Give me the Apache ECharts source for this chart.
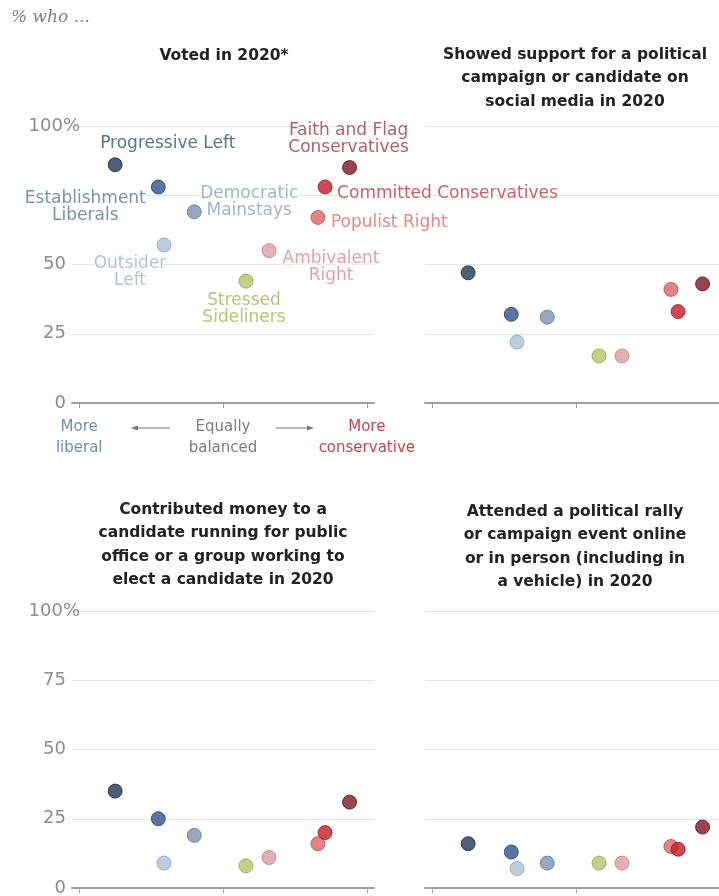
<!DOCTYPE html>
<html>
<head>
<meta charset="utf-8">
<script src="https://cdn.jsdelivr.net/npm/echarts@6/dist/echarts.min.js"></script>
<style>
  html, body { margin: 0; padding: 0; background: #fff; }
  #chart { width: 719px; height: 896px; }
</style>
</head>
<body>
<div id="chart"></div>
<script>
// typology groups, left to right on the ideology scale
const groups = ['Progressive Left', 'Establishment Liberals', 'Democratic Mainstays', 'Outsider Left',
  'Stressed Sideliners', 'Ambivalent Right', 'Populist Right', 'Committed Conservatives', 'Faith and Flag Conservatives'];
// position on the liberal (-1) .. conservative (+1) axis
const ideology = [-0.75, -0.45, -0.2, -0.41, 0.16, 0.32, 0.66, 0.71, 0.88];

// % who ...
const voted = [86, 78, 69, 57, 44, 55, 67, 78, 85];
const socialMedia = [47, 32, 31, 22, 17, 17, 41, 33, 43];
const contributed = [35, 25, 19, 9, 8, 11, 16, 20, 31];
const rally = [16, 13, 9, 7, 9, 9, 15, 14, 22];

const panelValues = [voted, socialMedia, contributed, rally];
const panelTitles = [
  'Voted in 2020*',
  'Showed support for a political\ncampaign or candidate on\nsocial media in 2020',
  'Contributed money to a\ncandidate running for public\noffice or a group working to\nelect a candidate in 2020',
  'Attended a political rally\nor campaign event online\nor in person (including in\na vehicle) in 2020'
];
const yTicks = [0, 25, 50, 75, 100];
const sideTicks = [-1, 0, 1];
const sideLabels = ['More\nliberal', 'Equally\nbalanced', 'More\nconservative'];
const pointLabels = ['Progressive Left', 'Establishment\nLiberals', 'Democratic\nMainstays', 'Outsider\nLeft',
  'Stressed\nSideliners', 'Ambivalent\nRight', 'Populist Right', 'Committed Conservatives', 'Faith and Flag\nConservatives'];

// styling
const dotColors = ['#1f3856', '#2f5586', '#7b92ad', '#adc0d6', '#b4c46a', '#dc9ca2', '#df646b', '#c41c25', '#7d1820'];
const dotBorders = ['#15263b', '#213e64', '#5d7590', '#879fba', '#8e9d4c', '#b67a80', '#b54a50', '#93141a', '#570f15'];
const labelColors = ['#33506f', '#5b7496', '#8ca1bb', '#9db3cd', '#a1b355', '#e0868d', '#e0666d', '#c8353c', '#a3363d'];
const sideColors = ['#6f8db3', '#7c7c7c', '#c9454c'];
// label placement relative to the dot centre (px)
const labelOffsets = [[-15, -21], [-73, 20], [55, -10], [-34, 27], [-2, 28], [62, 16], [13, 5], [12, 7], [-1, -28]];
const labelAligns = ['left', 'center', 'center', 'center', 'center', 'center', 'left', 'left', 'center'];

const FONT = 'DejaVu Sans';
const gridPos = [
  { left: 72, top: 126 }, { left: 425, top: 126 },
  { left: 72, top: 611 }, { left: 425, top: 611 }
];
const titlePos = [[224, 44], [575, 43], [223, 498], [575, 500]];

const chart = echarts.init(document.getElementById('chart'), null, { renderer: 'canvas' });

const grid = gridPos.map(p => ({
  left: p.left, top: p.top, width: 302, height: 277,
  containLabel: false, outerBoundsMode: 'none'
}));

const xAxis = gridPos.map((p, i) => ({
  gridIndex: i, type: 'value', min: -1.05, max: 1.05,
  axisLine: { show: true, onZero: false, lineStyle: { color: '#a0a0a0', width: 2 } },
  axisTick: { show: true, customValues: sideTicks, length: 5, lineStyle: { color: '#a0a0a0', width: 1 } },
  splitLine: { show: false },
  axisLabel: { show: false }
}));

const yAxis = gridPos.map((p, i) => ({
  gridIndex: i, type: 'value', min: 0, max: 100, interval: 25,
  axisLine: { show: false }, axisTick: { show: false },
  splitLine: { show: true, lineStyle: { color: '#e4e4e4', width: 1 } },
  axisLabel: {
    show: i % 2 === 0, margin: -8,
    fontFamily: FONT, fontSize: 18, color: '#8c8c8c',
    formatter: v => {
      if (i === 0 && v === 75) return '';
      if (v === 100) return '100%';
      return v + '{sp| }';
    },
    rich: { sp: { width: 14, fontSize: 18 } }
  }
}));

const series = panelValues.map((vals, i) => ({
  type: 'scatter', xAxisIndex: i, yAxisIndex: i,
  symbol: 'circle', symbolSize: 14,
  z: 3,
  data: groups.map((g, k) => ({
    name: g,
    value: [ideology[k], vals[k]],
    itemStyle: { color: dotColors[k], borderColor: dotBorders[k], borderWidth: 1 },
    label: i === 0 ? {
      show: true, position: 'inside', formatter: pointLabels[k],
      align: labelAligns[k], verticalAlign: 'middle', offset: labelOffsets[k],
      color: labelColors[k], fontFamily: FONT, fontSize: 17, lineHeight: 17,
      textBorderColor: '#fff', textBorderWidth: 3
    } : { show: false }
  })),
  emphasis: { disabled: true }
}));

const title = [{
  text: '% who ...', left: 11, top: 9, padding: 0,
  textStyle: { fontFamily: 'DejaVu Serif', fontStyle: 'italic', fontWeight: 'normal', fontSize: 17, color: '#808080' }
}].concat(panelTitles.map((t, i) => ({
  text: t, left: titlePos[i][0], top: titlePos[i][1], padding: 0, textAlign: 'center',
  textStyle: { fontFamily: FONT, fontWeight: 'bold', fontSize: 15.5, lineHeight: 23.5, color: '#222' }
})));

chart.setOption({
  backgroundColor: '#fff',
  animation: false,
  title, grid, xAxis, yAxis, series
});

// ends of the ideology scale, written under the first panel's axis
const axisY = chart.convertToPixel({ yAxisIndex: 0 }, 0);
const sideX = sideTicks.map(v => chart.convertToPixel({ xAxisIndex: 0 }, v));
const arrowColor = '#777';
const arrowY = axisY + 25;
const graphic = sideLabels.map((t, k) => ({
  type: 'text', x: sideX[k], y: axisY + 14,
  style: {
    text: t, align: 'center', verticalAlign: 'top',
    fontFamily: FONT, fontSize: 15, lineHeight: 21, fill: sideColors[k]
  }
})).concat([
  { type: 'line', shape: { x1: 136, y1: arrowY, x2: 170, y2: arrowY }, style: { stroke: arrowColor, lineWidth: 1 } },
  { type: 'polygon', shape: { points: [[131, arrowY], [138, arrowY - 2.5], [138, arrowY + 2.5]] }, style: { fill: arrowColor } },
  { type: 'line', shape: { x1: 276, y1: arrowY, x2: 309, y2: arrowY }, style: { stroke: arrowColor, lineWidth: 1 } },
  { type: 'polygon', shape: { points: [[314, arrowY], [307, arrowY - 2.5], [307, arrowY + 2.5]] }, style: { fill: arrowColor } }
]);
chart.setOption({ graphic });
</script>
</body>
</html>
